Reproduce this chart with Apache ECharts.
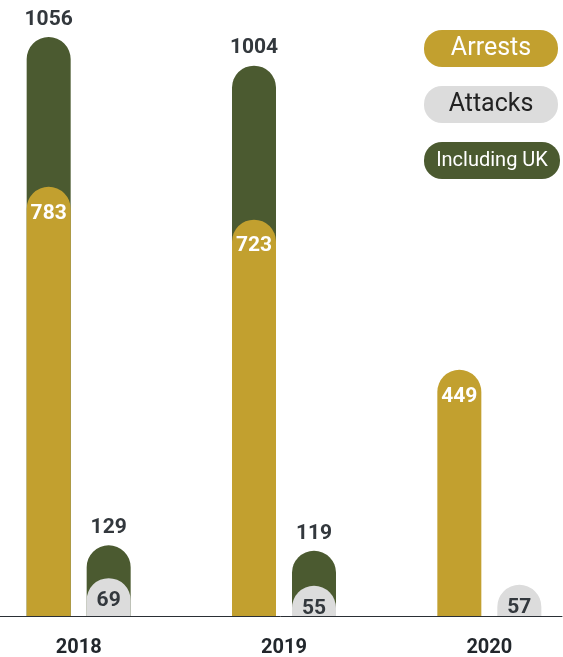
<!DOCTYPE html>
<html><head><meta charset="utf-8">
<script src="https://cdn.jsdelivr.net/npm/echarts@6/dist/echarts.min.js"></script>
<style>html,body{margin:0;padding:0;background:#fff}#c{width:563px;height:657px}</style>
</head><body><div id="c"></div>
<script>
const years = ['2018', '2019', '2020'];
const arrests = [783, 723, 449];
const arrestsInclUK = [1056, 1004, null];
const attacks = [69, 55, 57];
const attacksInclUK = [129, 119, null];

const GOLD = '#C2A02F', GREEN = '#4B5A30', GREY = '#DCDCDC', DARK = '#33383d';
const FONT = 'Roboto';
const R = [22, 22, 0, 0];
const BW = 44;

const chart = echarts.init(document.getElementById('c'), null, {renderer: 'canvas'});
const gridCommon = {top: 13, bottom: 41, width: 616, outerBoundsMode: 'none', containLabel: false};
const yCommon = {type: 'value', min: 0, max: 1100, show: false};
const xHidden = {type: 'category', data: years, axisLine: {show: false}, axisTick: {show: false}, axisLabel: {show: false}, splitLine: {show: false}};

const pill = (bg, color, size, w) => ({backgroundColor: bg, color: color, fontSize: size, borderRadius: 18, width: w, height: 37, lineHeight: 37, align: 'center', fontFamily: FONT});

chart.setOption({
  animation: false,
  textStyle: {fontFamily: FONT},
  grid: [
    Object.assign({left: -54}, gridCommon),
    Object.assign({left: 6}, gridCommon),
    Object.assign({left: -24}, gridCommon)
  ],
  xAxis: [
    Object.assign({}, xHidden, {gridIndex: 0, axisLine: {show: true, lineStyle: {color: '#2a2f35', width: 1}}}),
    Object.assign({}, xHidden, {gridIndex: 1}),
    Object.assign({}, xHidden, {gridIndex: 2, axisLabel: {show: true, color: '#22272c', fontSize: 20, fontWeight: 'bold', fontFamily: FONT, margin: 22}})
  ],
  yAxis: [
    Object.assign({gridIndex: 0}, yCommon),
    Object.assign({gridIndex: 1}, yCommon),
    Object.assign({gridIndex: 2}, yCommon)
  ],
  legend: {
    orient: 'vertical', right: -2, top: 25, itemGap: 19,
    itemWidth: 0, itemHeight: 0, icon: 'rect', selectedMode: false,
    data: ['Arrests', 'Attacks', 'Including UK'],
    formatter: function (name) {
      const key = {'Arrests': 'a', 'Attacks': 'b', 'Including UK': 'c'}[name];
      return '{' + key + '|' + name + '}';
    },
    textStyle: {
      rich: {
        a: pill(GOLD, '#fff', 25, 134),
        b: pill(GREY, '#222', 25, 134),
        c: pill(GREEN, '#fff', 20, 136)
      }
    }
  },
  series: [
    {name: 'Including UK', type: 'bar', xAxisIndex: 0, yAxisIndex: 0, data: arrestsInclUK, barWidth: BW, barGap: '-100%',
     itemStyle: {color: GREEN, borderRadius: R},
     label: {show: true, position: 'top', distance: 7, color: DARK, fontSize: 21, fontWeight: 'bold', fontFamily: FONT}},
    {name: 'Arrests', type: 'bar', xAxisIndex: 0, yAxisIndex: 0, data: arrests, barWidth: BW, barGap: '-100%',
     itemStyle: {color: GOLD, borderRadius: R},
     label: {show: true, position: 'insideTop', distance: 16, color: '#fff', fontSize: 21, fontWeight: 'bold', fontFamily: FONT}},
    {name: 'Including UK', type: 'bar', xAxisIndex: 1, yAxisIndex: 1, data: attacksInclUK, barWidth: BW, barGap: '-100%',
     itemStyle: {color: GREEN, borderRadius: R},
     label: {show: true, position: 'top', distance: 7, color: DARK, fontSize: 21, fontWeight: 'bold', fontFamily: FONT}},
    {name: 'Attacks', type: 'bar', xAxisIndex: 1, yAxisIndex: 1, data: attacks, barWidth: BW, barGap: '-100%',
     itemStyle: {color: GREY, borderRadius: R},
     label: {show: true, position: 'insideTop', distance: 12, color: DARK, fontSize: 21, fontWeight: 'bold', fontFamily: FONT}}
  ]
});
</script></body></html>
